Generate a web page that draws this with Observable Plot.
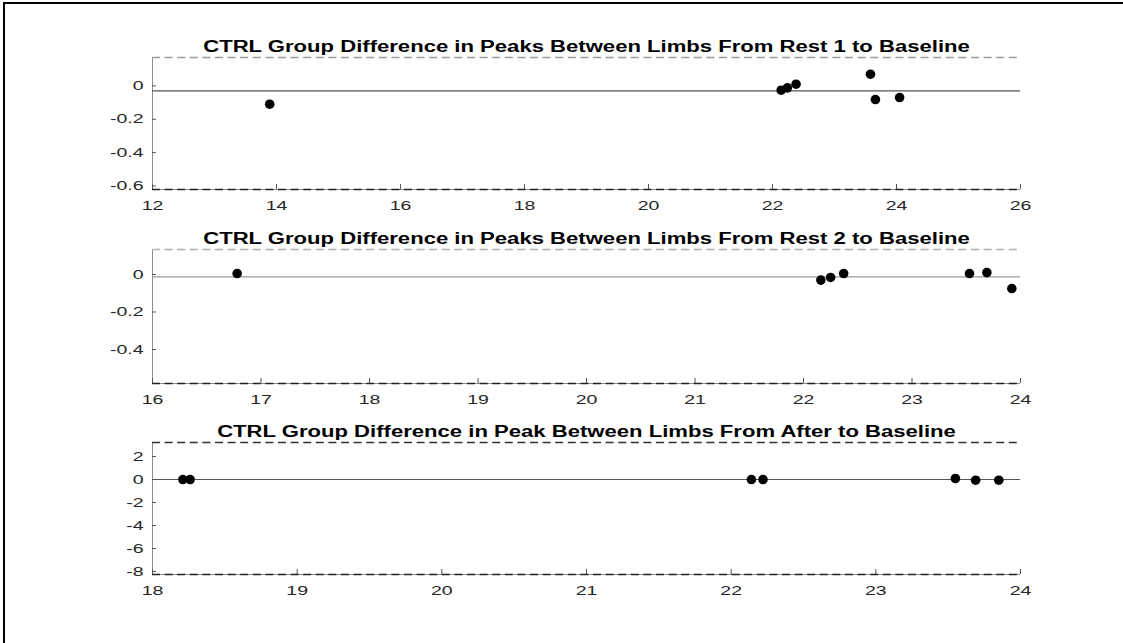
<!DOCTYPE html>
<html><head><meta charset="utf-8">
<script src="https://cdn.jsdelivr.net/npm/d3@7"></script>
<script src="https://cdn.jsdelivr.net/npm/@observablehq/plot@0.6"></script>
<style>
html,body{margin:0;padding:0;background:#fff;overflow:hidden;width:1123px;height:643px;}
#frame{position:absolute;left:3px;top:2px;width:1118px;height:641px;border-left:2px solid #000;border-top:2px solid #000;}
.panel{position:absolute;left:0;}
</style></head><body>
<div id="frame"></div>
<div id="p0" class="panel" style="top:0px"></div>
<div id="p1" class="panel" style="top:215px"></div>
<div id="p2" class="panel" style="top:410px"></div>
<script>
// ---- data ----
const titles = [
  "CTRL Group Difference in Peaks Between Limbs From Rest 1 to Baseline",
  "CTRL Group Difference in Peaks Between Limbs From Rest 2 to Baseline",
  "CTRL Group Difference in Peak Between Limbs From After to Baseline"
];
const xDomains = [[12, 26], [16, 24], [18, 24]];
const xTicks = [[12, 14, 16, 18, 20, 22, 24, 26], [16, 17, 18, 19, 20, 21, 22, 23, 24], [18, 19, 20, 21, 22, 23, 24]];
const yDomains = [[-0.621, 0.17], [-0.581, 0.133], [-8.26, 3.22]];
const yTicks = [[-0.6, -0.4, -0.2, 0], [-0.4, -0.2, 0], [-8, -6, -4, -2, 0, 2]];
const meanDiffs = [-0.03, -0.013, 0];
const upperLimits = [0.17, 0.133, 3.22];
const lowerLimits = [-0.621, -0.581, -8.26];

const rest1Mean = [13.89, 22.14, 22.24, 22.38, 23.58, 23.66, 24.05];
const rest1Diff = [-0.11, -0.026, -0.012, 0.01, 0.07, -0.082, -0.07];
const rest2Mean = [16.78, 22.16, 22.25, 22.37, 23.53, 23.69, 23.92];
const rest2Diff = [0.005, -0.03, -0.016, 0.005, 0.005, 0.01, -0.075];
const afterMean = [18.21, 18.26, 22.14, 22.22, 23.55, 23.69, 23.85];
const afterDiff = [0, 0, 0, 0, 0.09, -0.06, -0.06];

const seriesX = [rest1Mean, rest2Mean, afterMean];
const seriesY = [rest1Diff, rest2Diff, afterDiff];

// ---- layout / style ----
const layout = [
  {height: 215, marginTop: 57, marginBottom: 26, titleDy: -11},
  {height: 195, marginTop: 34, marginBottom: 27, titleDy: -11},
  {height: 200, marginTop: 32, marginBottom: 36, titleDy: -11}
];
const meanColor = ["#555", "#999", "#555"];
const upperColor = ["#9a9a9a", "#b0b0b0", "#333"];
const W = 1123, ML = 152, MR = 103;
const tickScale = 1.5;
const titleTarget = 767;

let titleScale = null;
for (let i = 0; i < 3; i++) {
  const L = layout[i];
  const plotH = L.height - L.marginTop - L.marginBottom;
  const plotW = W - ML - MR;
  const data = seriesX[i].map((x, k) => ({x, y: seriesY[i][k]}));
  const svg = Plot.plot({
    width: W, height: L.height,
    marginLeft: ML, marginRight: MR, marginTop: L.marginTop, marginBottom: L.marginBottom,
    style: {fontFamily: "'Liberation Sans', Arial, sans-serif", fontSize: "13px", color: "#262626", background: "transparent", overflow: "visible"},
    x: {domain: xDomains[i], label: null},
    y: {domain: yDomains[i], label: null},
    marks: [
      Plot.ruleY([lowerLimits[i]], {stroke: "#8c8c8c"}),
      Plot.ruleX([xDomains[i][0]], {stroke: "#8c8c8c"}),
      Plot.tickX(xTicks[i], {x: d => d, stroke: "#555", insetTop: plotH - 5}),
      Plot.tickY(yTicks[i], {y: d => d, stroke: "#555", insetRight: plotW - 4}),
      Plot.ruleY([meanDiffs[i]], {stroke: meanColor[i], strokeWidth: 1.2}),
      Plot.ruleY([upperLimits[i]], {stroke: upperColor[i], strokeWidth: 1.3, strokeDasharray: "8,4.6"}),
      Plot.ruleY([lowerLimits[i]], {stroke: "#222", strokeWidth: 1.3, strokeDasharray: "8,4.6"}),
      Plot.dot(data, {x: "x", y: "y", r: 4.8, fill: "#000", stroke: null}),
      Plot.axisX({ticks: xTicks[i], tickSize: 0, tickPadding: 11, label: null, tickFormat: d => String(d)}),
      Plot.axisY({ticks: yTicks[i], tickSize: 0, tickPadding: 9, label: null, tickFormat: d => String(d)}),
      Plot.text([titles[i]], {text: d => d, frameAnchor: "top", lineAnchor: "middle", dy: L.titleDy, fontWeight: "bold", fontSize: 17, fill: "#000"})
    ]
  });
  document.getElementById("p" + i).appendChild(svg);
  const s = d3.select(svg);
  s.selectAll('g[aria-label="x-axis tick label"] text, g[aria-label="y-axis tick label"] text')
    .attr("transform", function() { return (this.getAttribute("transform") || "") + ` scale(${tickScale},1)`; });
  s.selectAll('g[aria-label="text"] text').each(function() {
    if (titleScale === null) titleScale = titleTarget / this.getComputedTextLength();
    this.setAttribute("transform", (this.getAttribute("transform") || "") + ` scale(${titleScale},1)`);
  });
}
</script>
</body></html>
